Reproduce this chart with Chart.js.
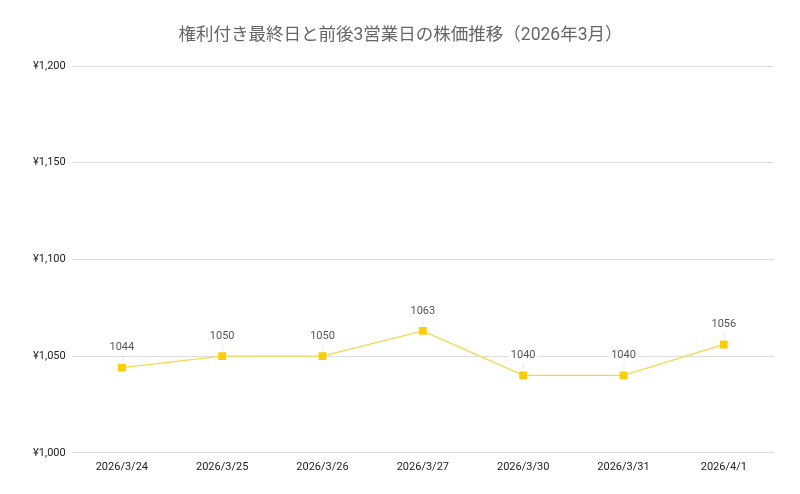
<!DOCTYPE html>
<html><head><meta charset="utf-8">
<script src="https://cdn.jsdelivr.net/npm/chart.js@4.4.1/dist/chart.umd.min.js"></script>
<style>html,body{margin:0;padding:0;background:#fff}#wrap{width:800px;height:494px}</style>
</head><body><div id="wrap"><canvas id="c" width="800" height="494"></canvas></div>
<script>
const categories = ['2026/3/24','2026/3/25','2026/3/26','2026/3/27','2026/3/30','2026/3/31','2026/4/1'];
const prices = [1044, 1050, 1050, 1063, 1040, 1040, 1056];
const yTicks = [1000, 1050, 1100, 1150, 1200];
const titleText = '権利付き最終日と前後3営業日の株価推移（2026年3月）';

const FONT = "Roboto, 'Noto Sans CJK JP', sans-serif";

const labelPlugin = {
  id: 'pointLabels',
  afterDatasetsDraw(chart) {
    const ctx = chart.ctx;
    const meta = chart.getDatasetMeta(0);
    ctx.save();
    ctx.font = '11px ' + FONT;
    ctx.textAlign = 'center';
    ctx.textBaseline = 'middle';
    meta.data.forEach((pt, i) => {
      const txt = String(chart.data.datasets[0].data[i]);
      const x = pt.x, y = pt.y - 20;
      const w = ctx.measureText(txt).width + 4;
      ctx.fillStyle = '#ffffff';
      ctx.fillRect(x - w / 2, y - 7, w, 14);
      ctx.strokeStyle = 'rgba(0,0,0,0.08)';
      ctx.lineWidth = 1;
      ctx.beginPath();
      ctx.moveTo(x + 0.5, y + 7);
      ctx.lineTo(x + 0.5, pt.y - 6);
      ctx.stroke();
      ctx.fillStyle = '#555555';
      ctx.fillText(txt, x, y);
    });
    ctx.restore();
  }
};

new Chart(document.getElementById('c'), {
  type: 'line',
  data: {
    labels: categories,
    datasets: [{
      data: prices,
      borderColor: '#f6d84a',
      borderWidth: 1.3,
      pointStyle: 'rect',
      pointRadius: 5.5,
      pointBackgroundColor: '#fccd00',
      pointBorderColor: '#fccd00',
      pointBorderWidth: 0,
      tension: 0,
      fill: false
    }]
  },
  options: {
    responsive: false,
    animation: false,
    devicePixelRatio: 1,
    layout: { padding: { left: 27, right: 26, top: 0, bottom: 12 } },
    plugins: {
      legend: { display: false },
      tooltip: { enabled: false },
      title: {
        display: true,
        text: titleText,
        color: '#666666',
        font: { family: FONT, size: 17.5, weight: 'normal' },
        padding: { top: 25, bottom: 20 }
      }
    },
    scales: {
      x: {
        offset: true,
        grid: { display: false, drawTicks: false },
        border: { display: false },
        ticks: { color: '#222', font: { family: FONT, size: 11 }, padding: 8, maxRotation: 0 }
      },
      y: {
        min: 1000, max: 1200,
        afterBuildTicks(axis) { axis.ticks = yTicks.map(v => ({ value: v })); },
        grid: { color: '#dddddd', drawTicks: false },
        border: { display: false },
        ticks: {
          color: '#222', font: { family: FONT, size: 11 }, padding: 6,
          callback: v => '¥' + v.toLocaleString('en-US')
        }
      }
    }
  },
  plugins: [labelPlugin]
});
</script></body></html>
